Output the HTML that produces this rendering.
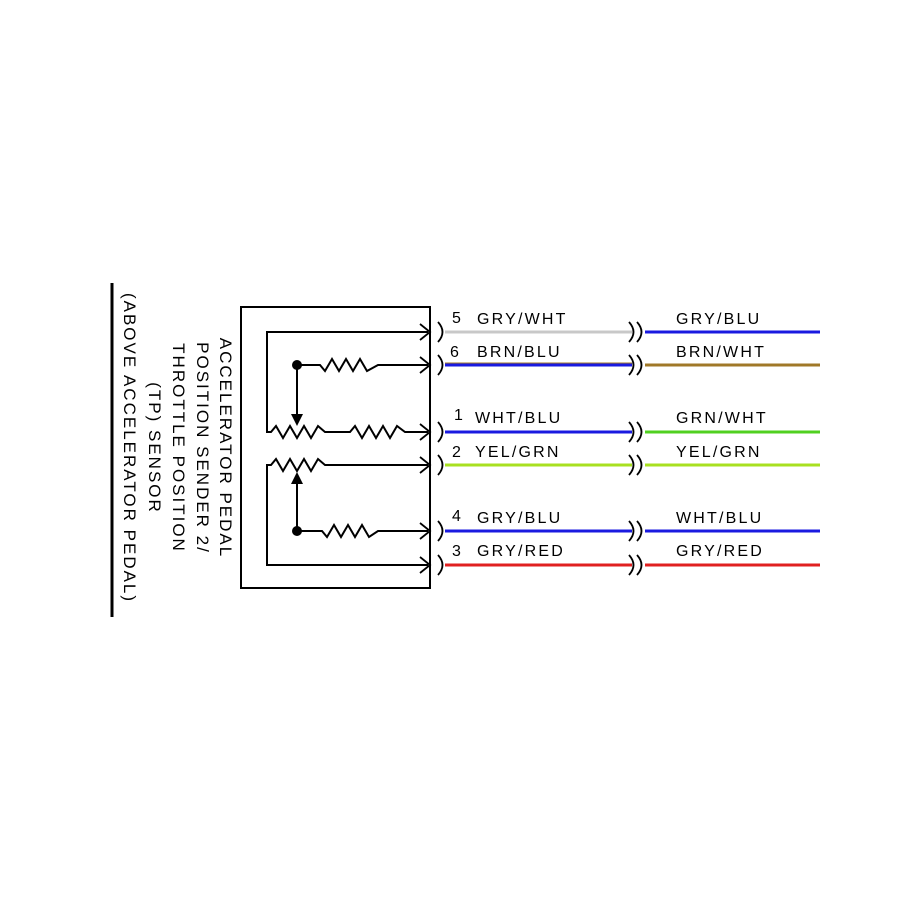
<!DOCTYPE html>
<html><head><style>body{margin:0;background:#fff}svg{display:block}</style></head><body>
<svg width="900" height="900" xmlns="http://www.w3.org/2000/svg" font-family="Liberation Sans, sans-serif">
<rect width="900" height="900" fill="#fff"/>
<line x1="112" y1="283" x2="112" y2="617" stroke="#000" stroke-width="3"/>
<g font-size="17" letter-spacing="2" text-anchor="middle" fill="#000">
<text transform="translate(220,448) rotate(90)">ACCELERATOR PEDAL</text>
<text transform="translate(197,448) rotate(90)">POSITION SENDER 2/</text>
<text transform="translate(173,448) rotate(90)">THROTTLE POSITION</text>
<text transform="translate(149,448) rotate(90)">(TP) SENSOR</text>
<text transform="translate(124,448) rotate(90)">(ABOVE ACCELERATOR PEDAL)</text>
</g>
<rect x="241" y="307" width="189" height="281" fill="none" stroke="#000" stroke-width="2"/>
<g fill="none" stroke="#000" stroke-width="2">
<polyline points="428,332 267,332 267,432 271,432 276,426 283,438 290,426 297,438 304,426 311,438 318,426 325,432 350,432 355,426 362,438 369,426 376,438 383,426 390,438 397,426 405,432 428,432"/>
<polyline points="297,365 320,365 325,371 332,359 339,371 346,359 353,371 360,359 367,371 378,365 428,365"/>
<polyline points="428,565 267,565 267,465 271,465 276,459 283,471 290,459 297,471 304,459 311,471 318,459 325,465 428,465"/>
<polyline points="297,531 322,531 327,537 334,525 341,537 348,525 355,537 362,525 369,537 378,531 428,531"/>
<line x1="297" y1="365" x2="297" y2="418"/>
<line x1="297" y1="531" x2="297" y2="480"/>
</g>
<circle cx="297" cy="365" r="5"/><circle cx="297" cy="531" r="5"/>
<polygon points="291,414 303,414 297,426"/>
<polygon points="291,484 303,484 297,472"/>
<g fill="none" stroke="#000" stroke-width="1.8">
<path d="M420,324 L430,332 L420,340 M420,357 L430,365 L420,373 M420,424 L430,432 L420,440 M420,457 L430,465 L420,473 M420,523 L430,531 L420,539 M420,557 L430,565 L420,573"/>
<g id="c">
<path d="M438,322 Q447,332 438,342"/>
<path d="M629,322 Q638,332 629,342 M637,322 Q646,332 637,342"/>
</g>
<use href="#c" y="33"/><use href="#c" y="100"/><use href="#c" y="133"/><use href="#c" y="199"/><use href="#c" y="233"/>
</g>
<g stroke-width="3">
<line x1="445" y1="332" x2="632" y2="332" stroke="#c8c8c8"/><line x1="645" y1="332" x2="820" y2="332" stroke="#1a1ae0"/>
<line x1="445" y1="365" x2="632" y2="365" stroke="#1a1ae0"/><line x1="445" y1="363" x2="632" y2="363" stroke="#a07828" stroke-width="1"/><line x1="645" y1="365" x2="820" y2="365" stroke="#a07828"/>
<line x1="445" y1="432" x2="632" y2="432" stroke="#1a1ae0"/><line x1="645" y1="432" x2="820" y2="432" stroke="#50d020"/>
<line x1="445" y1="465" x2="632" y2="465" stroke="#a8e020"/><line x1="645" y1="465" x2="820" y2="465" stroke="#a8e020"/>
<line x1="445" y1="531" x2="632" y2="531" stroke="#1a1ae0"/><line x1="645" y1="531" x2="820" y2="531" stroke="#1a1ae0"/>
<line x1="445" y1="565" x2="632" y2="565" stroke="#e02020"/><line x1="645" y1="565" x2="820" y2="565" stroke="#e02020"/>
</g>
<g font-size="16" letter-spacing="2.2" fill="#000">
<text x="452" y="323">5</text><text x="477" y="324">GRY/WHT</text><text x="676" y="324">GRY/BLU</text>
<text x="450" y="357">6</text><text x="477" y="357">BRN/BLU</text><text x="676" y="357">BRN/WHT</text>
<text x="454" y="420">1</text><text x="475" y="423">WHT/BLU</text><text x="676" y="423">GRN/WHT</text>
<text x="452" y="457">2</text><text x="475" y="457">YEL/GRN</text><text x="676" y="457">YEL/GRN</text>
<text x="452" y="521">4</text><text x="477" y="523">GRY/BLU</text><text x="676" y="523">WHT/BLU</text>
<text x="452" y="556">3</text><text x="477" y="556">GRY/RED</text><text x="676" y="556">GRY/RED</text>
</g>
</svg>
</body></html>
